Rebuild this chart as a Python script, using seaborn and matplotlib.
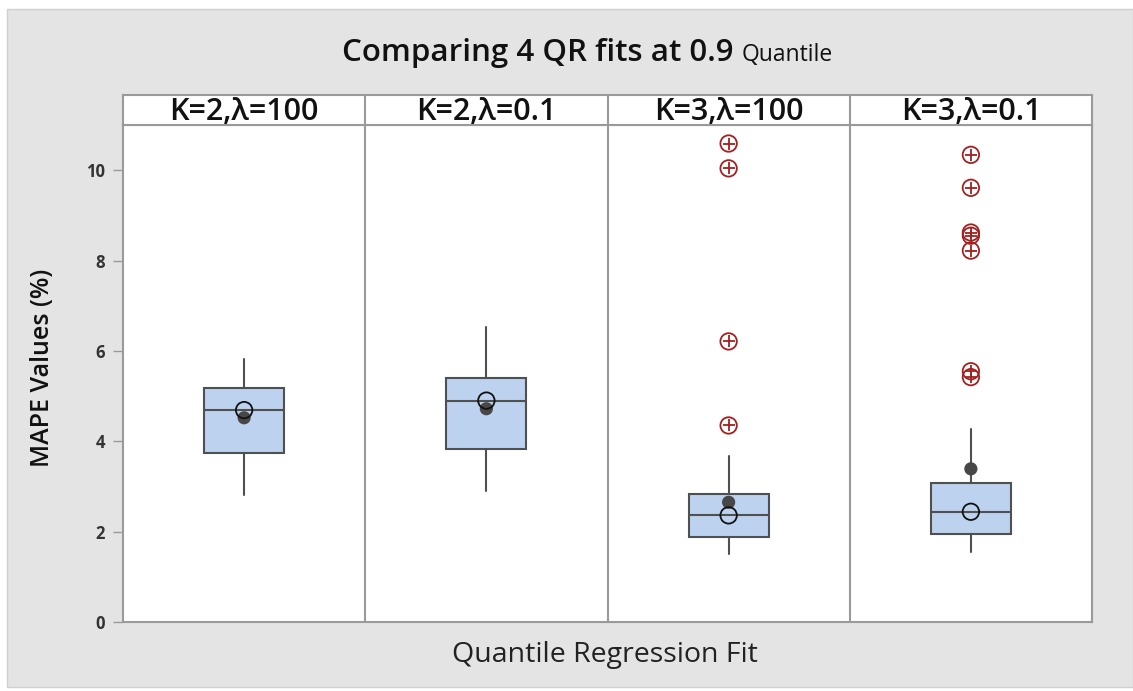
import numpy as np
import matplotlib
matplotlib.use("Agg")
import matplotlib.pyplot as plt
import seaborn as sns
import pandas as pd
from matplotlib.patches import Rectangle

# ---------------- data ----------------
groups = ["K=2,λ=100", "K=2,λ=0.1", "K=3,λ=100", "K=3,λ=0.1"]
whisker_low = [2.82, 2.89, 1.51, 1.54]
q1 = [3.74, 3.82, 1.88, 1.95]
median = [4.69, 4.90, 2.36, 2.44]
q3 = [5.17, 5.40, 2.83, 3.07]
whisker_high = [5.81, 6.54, 3.68, 4.27]
mean = [4.52, 4.72, 2.65, 3.39]
outliers_k3_l100 = [10.59, 10.04, 6.21, 4.35]
outliers_k3_l01 = [10.34, 9.61, 8.62, 8.55, 8.22, 5.55, 5.42]
outliers = [[], [], outliers_k3_l100, outliers_k3_l01]
yticks = [0, 2, 4, 6, 8, 10]

title_main = "Comparing 4 QR fits at 0.9"
title_tail = "Quantile"
xlabel = "Quantile Regression Fit"
ylabel = "MAPE Values (%)"

# ---------------- style ----------------
sns.set_theme(style="white")
plt.rcParams['font.family'] = ['Open Sans', 'DejaVu Sans']

W, H = 1133, 691
fig = plt.figure(figsize=(W / 100, H / 100), dpi=100)
fig.patch.set_facecolor('white')
fig.patches.append(Rectangle((7 / W, 1 - 687 / H), (W - 7) / W, (687 - 9) / H,
                             transform=fig.transFigure, facecolor='#e4e4e4',
                             edgecolor='#d0d0d0', lw=1, zorder=-10))

ax_l, ax_r, ax_t, ax_b = 123, 1092, 125, 622
strip_t = 95
ax = fig.add_axes([ax_l / W, 1 - ax_b / H, (ax_r - ax_l) / W, (ax_b - ax_t) / H])
sax = fig.add_axes([ax_l / W, 1 - ax_t / H, (ax_r - ax_l) / W, (ax_t - strip_t) / H])

frame_col = '#9a9a9a'
edge_col = '#505050'
box_col = '#bcd2ee'

pos = np.arange(len(groups))
stats = []
for i in range(len(groups)):
    stats.append(dict(med=median[i], q1=q1[i], q3=q3[i], whislo=whisker_low[i],
                      whishi=whisker_high[i], mean=mean[i], fliers=[], label=groups[i]))

ax.bxp(stats, positions=pos, widths=0.33, patch_artist=True, showfliers=False,
       showcaps=False, showmeans=False,
       boxprops=dict(facecolor=box_col, edgecolor=edge_col, lw=1.5),
       medianprops=dict(color=edge_col, lw=1.5),
       whiskerprops=dict(color=edge_col, lw=1.5))

# mean (filled) and median (open circle) symbols
mean_df = pd.DataFrame({"x": pos, "y": mean})
sns.scatterplot(data=mean_df, x="x", y="y", ax=ax, color='#474747', s=90,
                edgecolor='none', zorder=5, legend=False)
ax.scatter(pos, median, s=140, facecolors='none', edgecolors='#111111',
           linewidths=1.3, zorder=6)

# outliers: circled plus
out_x = [i for i, o in enumerate(outliers) for _ in o]
out_y = [v for o in outliers for v in o]
out_df = pd.DataFrame({"x": out_x, "y": out_y})
sns.scatterplot(data=out_df, x="x", y="y", ax=ax, marker='o', s=140,
                facecolor='none', edgecolor='#a32020', linewidth=1.3,
                zorder=5, legend=False)
ax.scatter(out_x, out_y, marker='+', s=85, color='#a32020', linewidths=1.3,
           zorder=5)

for a in (ax, sax):
    a.set_xlim(-0.5, len(groups) - 0.5)
    a.set_facecolor('white')
    for s in a.spines.values():
        s.set_color(frame_col)
        s.set_linewidth(1.5)
    for xv in pos[:-1] + 0.5:
        a.axvline(xv, color=frame_col, lw=1.5, zorder=1)

ax.set_ylim(0, 11)
ax.set_yticks(yticks)
ax.set_yticklabels([str(t) for t in yticks], fontsize=12, fontweight='bold',
                   color='#333333')
ax.tick_params(axis='y', length=7, width=1, color=frame_col, pad=6, left=True)
ax.set_xticks([])
ax.set_xlabel("")
ax.set_ylabel("")

sax.set_ylim(0, 1)
sax.set_xticks([])
sax.set_yticks([])
for i, g in enumerate(groups):
    sax.text(i, 0.45, g, ha='center', va='center', fontsize=22,
             fontweight='semibold', color='#111111')

fig.text(734 / W, 1 - 53 / H, title_main, ha='right', va='center',
         fontsize=22.5, fontweight='semibold', color='#111111')
fig.text(742 / W, 1 - 55 / H, title_tail, ha='left', va='center',
         fontsize=16.5, fontweight='normal', color='#111111')

fig.text(43 / W, 1 - 368 / H, ylabel, rotation=90, ha='center', va='center',
         fontsize=18, fontweight='semibold', color='#111111')
fig.text(605 / W, 1 - 655 / H, xlabel, ha='center', va='center',
         fontsize=20.5, color='#222222')

fig.savefig("out.png", dpi=100, facecolor=fig.get_facecolor())
